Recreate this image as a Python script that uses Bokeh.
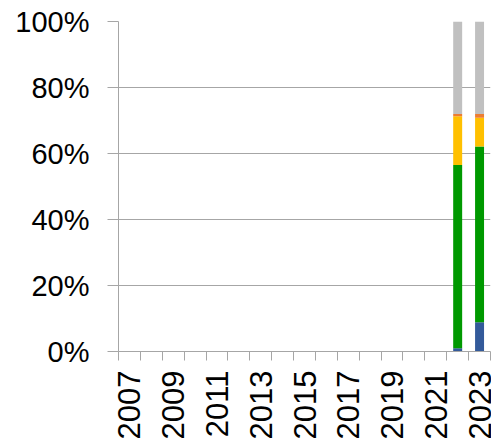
from bokeh.plotting import figure
from bokeh.models import FixedTicker, NumeralTickFormatter, Range1d, ColumnDataSource
from bokeh.embed import file_html
from bokeh.resources import INLINE
import math

years_all = list(range(2007, 2024))
label_years = [2007, 2009, 2011, 2013, 2015, 2017, 2019, 2021, 2023]
years = [2022, 2023]
s_blue = [0.010, 0.089]
s_green = [0.555, 0.532]
s_yellow = [0.148, 0.087]
s_orange = [0.007, 0.012]
s_gray = [0.280, 0.280]

series = ["s_blue", "s_green", "s_yellow", "s_orange", "s_gray"]
colors = ["#335A9A", "#009900", "#FFC000", "#ED7D31", "#C0C0C0"]

src = ColumnDataSource(dict(x=years, s_blue=s_blue, s_green=s_green,
                            s_yellow=s_yellow, s_orange=s_orange, s_gray=s_gray))

p = figure(width=491, height=445, output_backend="svg", toolbar_location=None,
           x_range=Range1d(years_all[0] - 0.5, years_all[-1] + 0.5),
           y_range=Range1d(0, 1),
           min_border_left=118, min_border_top=21, min_border_bottom=94, min_border_right=1)

p.vbar_stack(series, x="x", width=0.41, color=colors, line_color=None, source=src)

p.outline_line_color = None
p.background_fill_color = "white"
p.border_fill_color = "white"

grid_col = "#A6A6A6"
# y axis
p.yaxis.ticker = FixedTicker(ticks=[0, 0.2, 0.4, 0.6, 0.8, 1.0])
p.yaxis.formatter = NumeralTickFormatter(format="0%")
p.yaxis.major_label_text_font = "Liberation Sans"
p.yaxis.major_label_text_font_size = "29px"
p.yaxis.major_label_text_color = "#000000"
p.yaxis.axis_line_color = grid_col
p.yaxis.major_tick_line_color = grid_col
p.yaxis.major_tick_out = 11
p.yaxis.major_tick_in = 0
p.yaxis.minor_tick_line_color = None
p.yaxis.major_label_standoff = 18

# x axis
p.xaxis.ticker = FixedTicker(ticks=label_years, minor_ticks=[y - 0.5 for y in years_all] + [years_all[-1] + 0.5])
p.xaxis.major_label_orientation = math.pi / 2
p.xaxis.major_label_text_font = "Liberation Sans"
p.xaxis.major_label_text_font_size = "31px"
p.xaxis.major_label_text_color = "#000000"
p.xaxis.axis_line_color = grid_col
p.xaxis.major_tick_out = 0
p.xaxis.major_tick_in = 0
p.xaxis.minor_tick_line_color = grid_col
p.xaxis.minor_tick_out = 9
p.xaxis.minor_tick_in = 0
p.xaxis.major_label_standoff = 10

p.xgrid.grid_line_color = None
p.ygrid.grid_line_color = grid_col
p.ygrid.ticker = FixedTicker(ticks=[0.2, 0.4, 0.6, 0.8, 1.0])

open("out.html", "w").write(file_html(p, INLINE))
